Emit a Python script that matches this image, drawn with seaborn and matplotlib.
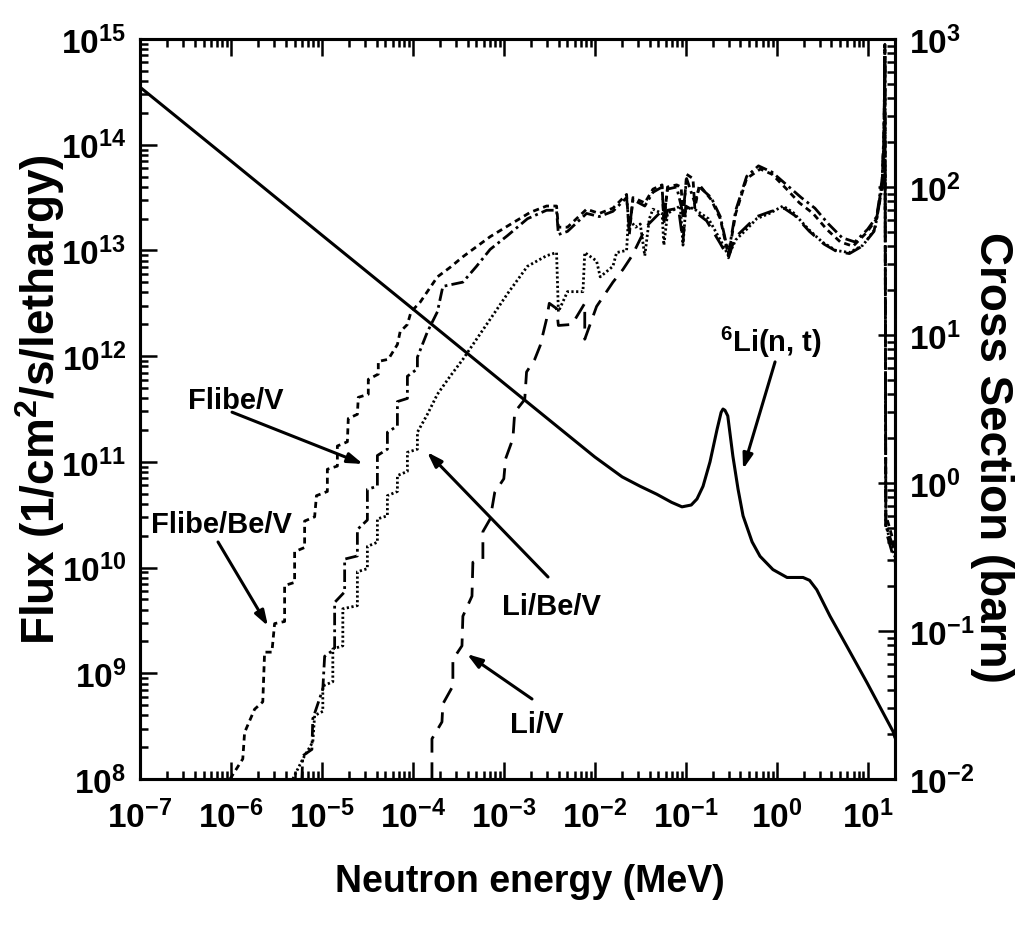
import numpy as np
import pandas as pd
import matplotlib
matplotlib.use("Agg")
import matplotlib.pyplot as plt
from matplotlib import ticker
import seaborn as sns

# ---------------- data ----------------
# exponents: log10(E / MeV), log10(flux)
flibe_be_v_logE = [-6.01, -5.87, -5.85, -5.74, -5.65, -5.63, -5.55, -5.52, -5.41, -5.41, -5.30, -5.30,
                   -5.19, -5.19, -5.08, -5.06, -4.94, -4.94, -4.83, -4.83, -4.72, -4.71, -4.61, -4.60,
                   -4.49, -4.49, -4.38, -4.38, -4.27, -4.17, -4.14, -4.06, -4.02, -3.92, -3.73, -3.59,
                   -3.45, -3.34, -3.15, -2.96, -2.71, -2.53, -2.42, -2.40, -2.30, -2.09, -1.95, -1.80,
                   -1.65, -1.62, -1.58, -1.45, -1.36, -1.26, -1.24, -1.20, -1.10, -1.05, -1.03, -0.99,
                   -0.92, -0.90, -0.85, -0.72, -0.62, -0.53, -0.45, -0.33, -0.18, -0.05, 0.11, 0.25,
                   0.40, 0.55, 0.70, 0.84, 0.99, 1.10, 1.16, 1.18, 1.19, 1.20, 1.30]
flibe_be_v_logF = [8.00, 8.19, 8.44, 8.66, 8.73, 9.20, 9.20, 9.47, 9.49, 9.83, 9.86, 10.15,
                   10.19, 10.44, 10.48, 10.68, 10.72, 10.93, 10.96, 11.15, 11.19, 11.41, 11.45, 11.61,
                   11.64, 11.78, 11.83, 11.95, 11.97, 12.11, 12.23, 12.30, 12.42, 12.51, 12.75, 12.84,
                   12.94, 13.01, 13.13, 13.23, 13.36, 13.42, 13.42, 13.22, 13.22, 13.39, 13.35, 13.40,
                   13.53, 13.15, 13.50, 13.45, 13.58, 13.62, 13.25, 13.60, 13.62, 13.60, 13.30, 13.72,
                   13.68, 13.40, 13.62, 13.48, 13.30, 12.95, 13.35, 13.68, 13.77, 13.72, 13.58, 13.45,
                   13.35, 13.20, 13.08, 13.04, 13.17, 13.30, 13.65, 14.10, 14.90, 10.50, 10.20]

flibe_v_logE = [-5.22, -5.21, -5.11, -5.10, -4.99, -4.97, -4.86, -4.86, -4.75, -4.75, -4.61, -4.61,
                -4.50, -4.50, -4.39, -4.39, -4.28, -4.28, -4.17, -4.17, -4.06, -4.06, -3.95, -3.95,
                -3.84, -3.73, -3.67, -3.45, -3.30, -3.15, -2.96, -2.74, -2.53, -2.42, -2.40, -2.30,
                -2.09, -1.95, -1.80, -1.65, -1.62, -1.58, -1.45, -1.36, -1.26, -1.24, -1.20, -1.10,
                -1.03, -0.99, -0.90, -0.85, -0.72, -0.62, -0.53, -0.45, -0.33, -0.20, -0.05, 0.11,
                0.27, 0.42, 0.57, 0.72, 0.86, 1.00, 1.10, 1.16, 1.18, 1.19, 1.20, 1.30]
flibe_v_logF = [8.00, 8.22, 8.28, 8.57, 8.85, 9.16, 9.23, 9.67, 9.77, 10.08, 10.11, 10.36,
                10.45, 10.74, 10.77, 11.06, 11.12, 11.28, 11.34, 11.57, 11.60, 11.81, 11.88, 11.99,
                12.23, 12.42, 12.66, 12.70, 12.85, 13.01, 13.14, 13.30, 13.38, 13.38, 13.15, 13.18,
                13.35, 13.32, 13.37, 13.50, 13.20, 13.48, 13.42, 13.55, 13.60, 13.30, 13.58, 13.60,
                13.35, 13.68, 13.45, 13.60, 13.50, 13.32, 12.97, 13.38, 13.70, 13.80, 13.74, 13.62,
                13.50, 13.40, 13.25, 13.12, 13.08, 13.20, 13.32, 13.68, 14.15, 14.95, 10.40, 10.15]

li_be_v_logE = [-5.32, -5.21, -5.10, -5.08, -4.99, -4.99, -4.88, -4.88, -4.77, -4.77, -4.61, -4.61,
                -4.50, -4.50, -4.39, -4.39, -4.28, -4.28, -4.17, -4.17, -4.06, -4.06, -3.95, -3.95,
                -3.84, -3.73, -3.59, -3.45, -3.30, -3.07, -2.96, -2.74, -2.53, -2.42, -2.40, -2.30,
                -2.13, -2.11, -1.98, -1.94, -1.80, -1.76, -1.65, -1.63, -1.55, -1.50, -1.45, -1.40,
                -1.36, -1.26, -1.24, -1.20, -1.06, -1.03, -1.00, -0.92, -0.75, -0.62, -0.53, -0.45,
                -0.33, -0.22, -0.08, 0.07, 0.18, 0.35, 0.50, 0.65, 0.80, 0.95, 1.08, 1.16, 1.18,
                1.19, 1.20, 1.30]
li_be_v_logF = [8.00, 8.19, 8.35, 8.60, 8.64, 8.88, 8.92, 9.23, 9.26, 9.61, 9.64, 9.96,
                9.99, 10.20, 10.24, 10.46, 10.49, 10.68, 10.72, 10.87, 10.91, 11.09, 11.12, 11.28,
                11.45, 11.64, 11.81, 11.97, 12.16, 12.45, 12.59, 12.85, 12.95, 12.98, 12.42, 12.61,
                12.61, 12.98, 12.90, 12.75, 12.85, 12.98, 13.00, 13.30, 13.22, 13.25, 12.95, 13.30,
                13.39, 13.35, 13.05, 13.35, 13.42, 13.05, 13.40, 13.40, 13.30, 13.10, 12.95, 13.10,
                13.20, 13.30, 13.35, 13.42, 13.36, 13.20, 13.08, 13.00, 12.98, 13.05, 13.20, 13.60, 14.10,
                14.85, 10.40, 10.10]

li_v_logE = [-3.79, -3.79, -3.68, -3.67, -3.56, -3.56, -3.46, -3.45, -3.35, -3.34, -3.23, -3.23,
             -3.15, -3.10, -3.00, -2.98, -2.90, -2.88, -2.77, -2.75, -2.66, -2.60, -2.53, -2.50,
             -2.42, -2.40, -2.25, -2.11, -2.11, -1.98, -1.80, -1.69, -1.59, -1.43, -1.28, -1.22,
             -1.20, -1.08, -1.03, -1.00, -0.92, -0.77, -0.63, -0.53, -0.46, -0.34, -0.22, -0.06,
             0.08, 0.20, 0.36, 0.52, 0.66, 0.80, 0.94, 1.07, 1.16, 1.18, 1.19, 1.20, 1.30]
li_v_logF = [8.00, 8.38, 8.54, 8.71, 8.88, 9.13, 9.26, 9.54, 9.73, 10.05, 10.08, 10.34,
             10.46, 10.71, 10.84, 11.03, 11.22, 11.47, 11.59, 11.85, 11.97, 12.10, 12.35, 12.50,
             12.45, 12.29, 12.30, 12.50, 12.16, 12.47, 12.70, 12.82, 12.95, 13.23, 13.36, 13.30,
             13.38, 13.40, 13.08, 13.42, 13.38, 13.28, 13.08, 12.93, 13.12, 13.22, 13.32, 13.37,
             13.40, 13.33, 13.18, 13.06, 12.99, 12.97, 13.04, 13.18, 13.58, 14.05, 14.80, 10.35, 10.05]

# 6Li(n,t) cross section: energy (MeV), sigma (barn)
xs_energy = [1e-7, 1e-6, 1e-5, 1e-4, 1e-3, 1e-2, 0.02, 0.0316, 0.048, 0.070, 0.091, 0.115, 0.133,
             0.155, 0.185, 0.221, 0.245, 0.257, 0.270, 0.29, 0.33, 0.376, 0.427, 0.537, 0.656,
             0.91, 1.30, 1.95, 2.30, 2.76, 3.86, 5.9, 9.8, 19.0, 20.0]
xs_sigma = [473, 150, 47.3, 15.0, 4.73, 1.50, 1.10, 0.95, 0.84, 0.74, 0.69, 0.71, 0.78,
            0.95, 1.39, 2.30, 3.00, 3.16, 3.10, 2.84, 1.52, 0.91, 0.60, 0.40, 0.32,
            0.26, 0.23, 0.23, 0.22, 0.19, 0.126, 0.079, 0.045, 0.021, 0.019]

flux_series = [
    ("Flibe/Be/V", flibe_be_v_logE, flibe_be_v_logF, (2.2, 1.6)),
    ("Flibe/V", flibe_v_logE, flibe_v_logF, (4.5, 1.5, 1.0, 1.5)),
    ("Li/Be/V", li_be_v_logE, li_be_v_logF, (0.8, 0.9)),
    ("Li/V", li_v_logE, li_v_logF, (6.0, 3.5)),
]

# ---------------- style ----------------
sns.set_style("ticks")
FAM = ["Liberation Sans", "DejaVu Sans"]
plt.rcParams["font.family"] = FAM
plt.rcParams["font.weight"] = "bold"
plt.rcParams["text.color"] = "black"
plt.rcParams["mathtext.fontset"] = "custom"
plt.rcParams["mathtext.rm"] = "Liberation Sans:bold"
plt.rcParams["mathtext.bf"] = "Liberation Sans:bold"
plt.rcParams["mathtext.it"] = "Liberation Sans:bold"
plt.rcParams["mathtext.default"] = "rm"

W, H = 1019, 937
fig = plt.figure(figsize=(W / 100, H / 100), dpi=100)
x0, x1, yt, yb = 140, 895, 40, 780
ax = fig.add_axes([x0 / W, 1 - yb / H, (x1 - x0) / W, (yb - yt) / H])
ax2 = ax.twinx()

for name, le, lf, dash in flux_series:
    df = pd.DataFrame({"E": np.power(10.0, le), "F": np.power(10.0, lf)})
    sns.lineplot(data=df, x="E", y="F", ax=ax, estimator=None, sort=False,
                 color="black", lw=2.0)
    ax.lines[-1].set_dashes(dash)

xs_df = pd.DataFrame({"E": xs_energy, "sigma": xs_sigma})
sns.lineplot(data=xs_df, x="E", y="sigma", ax=ax2, estimator=None, sort=False,
             color="black", lw=2.2)

for a in (ax, ax2):
    a.set_xscale("log")
    a.set_xlim(1e-7, 20)
    a.set_xlabel("")
    a.set_ylabel("")
ax.set_yscale("log")
ax.set_ylim(1e8, 1e15)
ax2.set_yscale("log")
ax2.set_ylim(1e-2, 1e3)

fmt = ticker.FuncFormatter(lambda v, p: r"$10^{%d}$" % int(round(np.log10(v))))
for axis in (ax.xaxis, ax.yaxis, ax2.yaxis):
    axis.set_major_locator(ticker.LogLocator(base=10, numticks=20))
    axis.set_minor_locator(ticker.LogLocator(base=10, subs=np.arange(2, 10), numticks=200))
    axis.set_major_formatter(fmt)
    axis.set_minor_formatter(ticker.NullFormatter())

ax.tick_params(axis="x", which="both", direction="in", top=True, bottom=True, width=1.8,
               labelsize=24, pad=15, colors="black")
ax.tick_params(axis="y", which="both", direction="in", left=True, right=False, width=1.8,
               labelsize=24, pad=10, colors="black")
ax.tick_params(which="major", length=12)
ax.tick_params(which="minor", length=6)
ax2.tick_params(axis="y", which="both", direction="in", right=True, width=1.8,
                labelsize=24, pad=10, colors="black")
ax2.tick_params(which="major", length=12)
ax2.tick_params(which="minor", length=6)
ax2.tick_params(axis="x", which="both", top=False, bottom=False, labelbottom=False, labeltop=False)

for a in (ax, ax2):
    for s in a.spines.values():
        s.set_linewidth(2.2)
        s.set_color("black")

# axis labels
fig.text(530 / W, 1 - 882 / H, "Neutron energy (MeV)", ha="center", va="center",
         fontsize=27, fontweight="bold", family=FAM, color="black")
fig.text(40 / W, 1 - 400 / H, r"Flux (1/cm$^{2}$/s/lethargy)", ha="center", va="center",
         rotation=90, fontsize=33, fontweight="bold", family=FAM, color="black")
fig.text(992 / W, 1 - 457 / H, "Cross Section (barn)", ha="center", va="center",
         rotation=-90, fontsize=33, fontweight="bold", family=FAM, color="black")

# annotations
arrow = dict(arrowstyle="-|>,head_length=0.9,head_width=0.3", color="black", lw=2.2,
             shrinkA=0, shrinkB=0)
ax.annotate("", xy=(10 ** -4.548, 10 ** 10.98), xytext=(10 ** -5.988, 10 ** 11.47),
            arrowprops=arrow)
ax.annotate("", xy=(10 ** -5.593, 10 ** 9.447), xytext=(10 ** -6.142, 10 ** 10.242),
            arrowprops=arrow)
ax.annotate("", xy=(10 ** -3.844, 10 ** 11.093), xytext=(10 ** -2.514, 10 ** 9.911),
            arrowprops=arrow)
ax.annotate("", xy=(10 ** -3.405, 10 ** 9.182), xytext=(10 ** -2.69, 10 ** 8.757),
            arrowprops=arrow)
ax2.annotate("", xy=(0.427, 1.24), xytext=(0.96, 6.58), arrowprops=arrow)

labels = [("Flibe/V", 236, 401), ("Flibe/Be/V", 221, 525), ("Li/Be/V", 551, 607),
          ("Li/V", 537, 725), (r"$^{6}$Li(n, t)", 771, 342)]
for txt, px, py in labels:
    fig.text(px / W, 1 - py / H, txt, ha="center", va="center", fontsize=21,
             fontweight="bold", family=FAM, color="black")

fig.savefig("out.png", dpi=100)
